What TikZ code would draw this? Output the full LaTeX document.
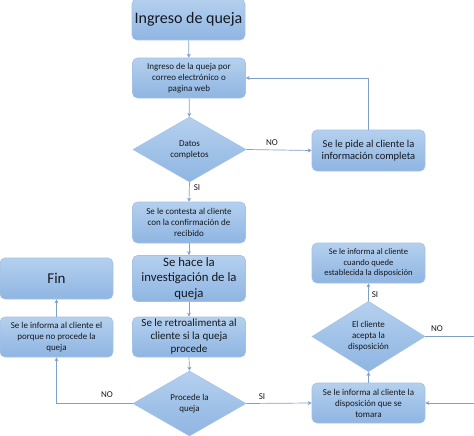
\documentclass[tikz,border=0pt]{standalone}
\usepackage{fontspec}
\setmainfont{Carlito}
\usetikzlibrary{shapes.geometric,arrows.meta}
\definecolor{boxtop}{HTML}{B5D0EE}
\definecolor{boxbot}{HTML}{8EB5E2}
\definecolor{boxline}{HTML}{A4C2E6}
\definecolor{conn}{HTML}{7F9FCB}
\definecolor{txt}{HTML}{141820}
\tikzset{
  box/.style={rounded corners=5pt, draw=boxline, line width=0.6pt, top color=boxtop, bottom color=boxbot,
    align=center, text=txt, inner sep=2pt, minimum width=113pt, minimum height=41pt},
  dec/.style={diamond, draw=boxline, line width=0.6pt, top color=boxtop, bottom color=boxbot,
    align=center, text=txt, inner sep=0pt, minimum width=113pt, minimum height=65pt},
  conn/.style={draw=conn, line width=0.7pt, -{Stealth[length=4pt,width=4pt]}},
  lbl/.style={text=txt, font=\fontsize{9}{11}\selectfont, inner sep=0pt},
  small/.style={font=\fontsize{9}{11}\selectfont},
}
\begin{document}
\begin{tikzpicture}[x=1pt,y=-1pt]
\useasboundingbox (0,0) rectangle (474,436);
\node[box, font=\fontsize{16}{19}\selectfont] (b1) at (188.5,19.5) {Ingreso de queja};
\node[box, small, minimum height=40pt] (b2) at (189,78) {Ingreso de la queja por\\correo electrónico o\\pagina web};
\node[dec, small] (d1) at (189.5,149.5) {Datos\\completos};
\node[box, font=\fontsize{10.5}{12.5}\selectfont] (b3) at (368.5,150.5) {Se le pide al cliente la\\información completa};
\node[box, small] (b4) at (189,222.5) {Se le contesta al cliente\\con la confirmación de\\recibido};
\node[box, font=\fontsize{12.8}{15.5}\selectfont] (b5) at (189,278.5) {Se hace la\\investigación de la\\queja};
\node[box, font=\fontsize{11}{13}\selectfont, minimum height=40pt] (b6) at (189,337) {Se le retroalimenta al\\cliente si la queja\\procede};
\node[dec, small] (d2) at (189.5,403.5) {Procede la\\queja};
\node[box, font=\fontsize{15}{18}\selectfont] (fin) at (56.5,278.5) {Fin};
\node[box, small, minimum height=40pt] (porque) at (56.5,337) {Se le informa al cliente el\\porque no procede la\\queja};
\node[box, small, minimum height=40pt] (disp) at (368.5,403) {Se le informa al cliente la\\disposición que se\\tomara};
\node[dec, small, minimum height=63pt] (d3) at (368.5,336.5) {El cliente\\acepta la\\disposición};
\node[box, font=\fontsize{8.6}{10.5}\selectfont, minimum height=40pt] (cuando) at (368.5,263) {Se le informa al cliente\\cuando quede\\establecida la disposición};
\coordinate (r1) at (482,336.5);
\coordinate (r2) at (482,403);

\draw[conn] (b1) -- (b2);
\draw[conn] (b2) -- (d1);
\draw[conn] (d1.east) -- (b3.west);
\draw[conn] (b3.north) |- (b2.east);
\draw[conn] (d1.south) -- (b4.north);
\draw[conn] (b4) -- (b5);
\draw[conn] (b5) -- (b6);
\draw[conn] (b6.south) -- (d2.north);
\draw[conn] (d2.west) -| (porque.south);
\draw[conn] (porque) -- (fin);
\draw[conn] (d2.east) -- (disp.west);
\draw[conn] (disp.north) -- (d3.south);
\draw[conn] (d3.north) -- (cuando.south);
\draw[conn] (d3.east) -- (r1) -- (r2) -- (disp.east);

\node[lbl] (l1) at (272,143) {NO};
\node[lbl] (l2) at (197,188) {SI};
\node[lbl] (l3) at (107,395) {NO};
\node[lbl] (l4) at (262,397) {SI};
\node[lbl] (l5) at (375,295) {SI};
\node[lbl] (l6) at (437,329) {NO};
\end{tikzpicture}
\end{document}
